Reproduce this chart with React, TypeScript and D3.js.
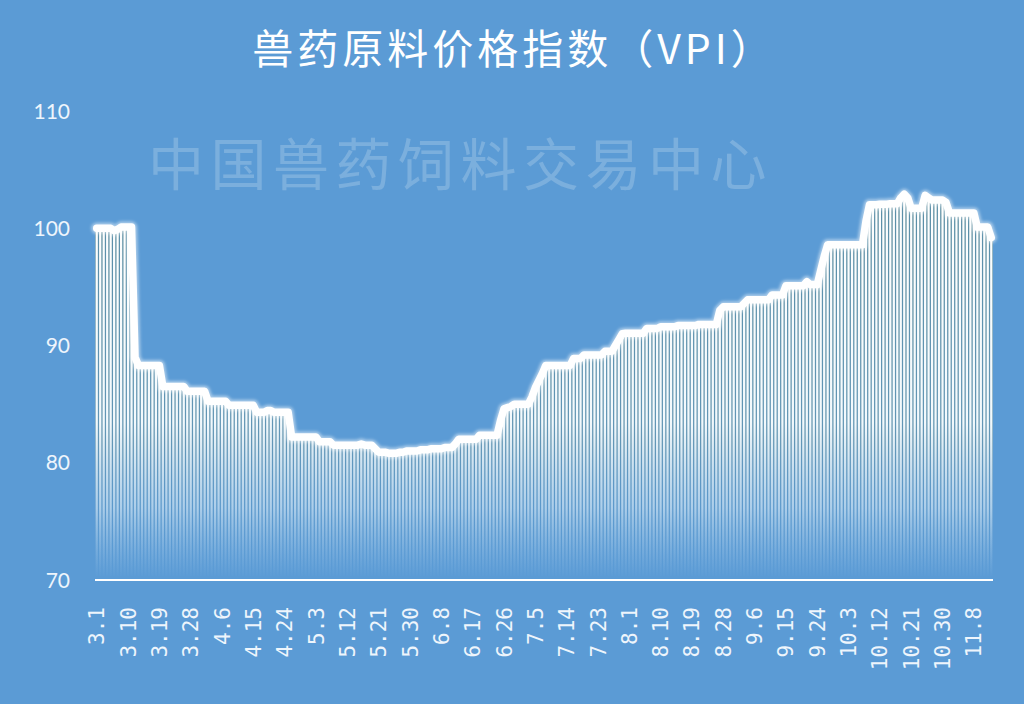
import React from 'react';
import * as d3 from 'd3';

const W = 1024;
const H = 704;

// Daily categories 3.1 .. 11.13
const dates = d3.timeDay.range(new Date(2017, 2, 1), new Date(2017, 10, 14));
const categories = dates.map((d) => `${d.getMonth() + 1}.${d.getDate()}`);

const vpiValues = [
  // 3.1 - 3.11
  100.0, 100.0, 100.0, 100.0, 100.0, 99.8, 99.9, 100.1, 100.1, 100.1, 100.1,
  // 3.12
  89.0,
  88.3, 88.3, 88.3, 88.3, 88.3, 88.3, 88.3,
  86.5, 86.5, 86.5, 86.5, 86.5, 86.5, 86.5,
  86.1, 86.1, 86.1, 86.1, 86.1, 86.1,
  85.25, 85.25, 85.25, 85.25, 85.25, 85.25,
  84.9, 84.9, 84.9, 84.9, 84.9, 84.9, 84.9, 84.9,
  84.3, 84.3, 84.3, 84.45, 84.45, 84.3, 84.3, 84.3, 84.3, 84.3,
  82.2, 82.2, 82.2, 82.2, 82.2, 82.2, 82.2, 82.2,
  81.8, 81.8, 81.8, 81.8,
  81.5, 81.5, 81.5, 81.5, 81.5, 81.5, 81.5, 81.5, 81.6, 81.5, 81.5, 81.5,
  81.2,
  80.9, 80.9, 80.9, 80.8, 80.8, 80.8, 80.9, 80.9,
  81.0, 81.0, 81.0, 81.0, 81.1, 81.1, 81.1, 81.2, 81.2, 81.2, 81.2, 81.3, 81.3, 81.3,
  81.6,
  82.0, 82.0, 82.0, 82.0, 82.0, 82.0,
  82.35, 82.35, 82.35, 82.35, 82.35, 82.35,
  83.6,
  84.6, 84.7, 84.8,
  85.0, 85.0, 85.0, 85.0, 85.0,
  85.6, 86.4, 87.0, 87.6,
  88.3, 88.3, 88.3, 88.3, 88.3, 88.3, 88.3, 88.3,
  88.9, 88.9, 88.9,
  89.2, 89.2, 89.2, 89.2, 89.2, 89.2,
  89.5, 89.5, 89.5,
  90.0, 90.5, 91.0,
  91.05, 91.05, 91.05, 91.05, 91.05, 91.05,
  91.45, 91.45, 91.45, 91.45,
  91.6, 91.6, 91.6, 91.6, 91.6, 91.7, 91.7, 91.7, 91.7, 91.7, 91.7,
  91.8, 91.8, 91.8, 91.8, 91.8, 91.8,
  93.0,
  93.3, 93.3, 93.3, 93.3, 93.3, 93.3,
  93.6,
  93.9, 93.9, 93.9, 93.9, 93.9, 93.9, 93.9,
  94.3, 94.3, 94.3, 94.3,
  95.1, 95.1, 95.1, 95.1, 95.1, 95.1,
  95.45,
  95.2, 95.2, 95.2,
  96.4, 97.6,
  98.6, 98.6, 98.6, 98.6, 98.6, 98.6, 98.6, 98.6, 98.6, 98.6, 98.6,
  100.6,
  102.0, 102.0, 102.0, 102.05, 102.05, 102.05, 102.1, 102.1, 102.1,
  102.6, 102.9, 102.6,
  101.7, 101.7, 101.7, 101.7,
  102.8, 102.6,
  102.4, 102.4, 102.4, 102.4,
  102.2,
  101.3, 101.3, 101.3, 101.3, 101.3, 101.3, 101.3, 101.3,
  100.1, 100.1, 100.1, 100.1,
  99.2,
];

const tickLabels = [
  '3.1', '3.10', '3.19', '3.28', '4.6', '4.15', '4.24', '5.3', '5.12', '5.21',
  '5.30', '6.8', '6.17', '6.26', '7.5', '7.14', '7.23', '8.1', '8.10', '8.19',
  '8.28', '9.6', '9.15', '9.24', '10.3', '10.12', '10.21', '10.30', '11.8',
];
const yTicks = [70, 80, 90, 100, 110];

const TITLE = '兽药原料价格指数（VPI）';
const WATERMARK = '中国兽药饲料交易中心';

const BG = '#5b9bd5';

export default function App() {
  const x = d3.scaleBand<string>().domain(categories).range([95, 993]).paddingInner(0.36).paddingOuter(0.18);
  const y = d3.scaleLinear().domain([70, 110]).range([580, 111]);
  const step = x.step();
  const bw = x.bandwidth();
  const cx = (c: string) => (x(c) as number) + bw / 2;

  const data = categories.map((c, i) => ({ c, v: vpiValues[i] })).filter((d) => d.v !== undefined);

  const line = d3
    .line<{ c: string; v: number }>()
    .x((d) => cx(d.c))
    .y((d) => y(d.v));
  const path = line(data) || '';

  return (
    <svg width={W} height={H} style={{ position: 'absolute', left: 0, top: 0, display: 'block' }}>
      <defs>
        <linearGradient id="barGrad" gradientUnits="userSpaceOnUse" x1="0" y1="190" x2="0" y2="578">
          <stop offset="0" stopColor="#ffffff" stopOpacity="1" />
          <stop offset="0.6" stopColor="#f6fcff" stopOpacity="0.97" />
          <stop offset="0.82" stopColor="#d6eafb" stopOpacity="0.65" />
          <stop offset="1" stopColor="#b9d9f5" stopOpacity="0" />
        </linearGradient>
        <linearGradient id="gapGrad" gradientUnits="userSpaceOnUse" x1="0" y1="190" x2="0" y2="578">
          <stop offset="0" stopColor="#5a8a98" stopOpacity="1" />
          <stop offset="0.65" stopColor="#6694a8" stopOpacity="0.85" />
          <stop offset="1" stopColor={BG} stopOpacity="0" />
        </linearGradient>
        <filter id="glow" x="-5%" y="-5%" width="110%" height="110%">
          <feGaussianBlur stdDeviation="1.5" />
        </filter>
      </defs>
      <rect x={0} y={0} width={W} height={H} fill={BG} />

      {/* Title */}
      <text
        x={514}
        y={64}
        textAnchor="middle"
        fill="#ffffff"
        fontFamily="'Noto Sans CJK SC', sans-serif"
        fontSize={41}
        fontWeight={400}
        letterSpacing={4}
      >
        {TITLE}
      </text>

      {/* Watermark */}
      <text
        x={148}
        y={185}
        fill="#ffffff"
        fillOpacity={0.2}
        fontFamily="'Noto Sans CJK SC', sans-serif"
        fontSize={56}
        letterSpacing={6.5}
      >
        {WATERMARK}
      </text>

      {/* Y tick labels */}
      {yTicks.map((t) => (
        <text
          key={t}
          x={70}
          y={y(t)}
          dy="0.36em"
          textAnchor="end"
          fill="#eef5fc"
          fontFamily="Lato, 'Open Sans', sans-serif"
          fontSize={21}
        >
          {t}
        </text>
      ))}

      {/* gaps shading */}
      {data.map((d) => (
        <rect
          key={'g' + d.c}
          x={(x(d.c) as number) - (step - bw) / 2}
          y={y(d.v)}
          width={step}
          height={574 - y(d.v)}
          fill="url(#gapGrad)"
        />
      ))}

      {/* bars */}
      {data.map((d) => (
        <rect
          key={'b' + d.c}
          x={x(d.c) as number}
          y={y(d.v)}
          width={bw}
          height={576 - y(d.v)}
          fill="url(#barGrad)"
        />
      ))}

      {/* line */}
      <path d={path} fill="none" stroke="#ffffff" strokeOpacity={0.5} strokeWidth={11} strokeLinejoin="round" strokeLinecap="round" filter="url(#glow)" />
      <path d={path} fill="none" stroke="#ffffff" strokeWidth={7.5} strokeLinejoin="round" strokeLinecap="round" />

      {/* x axis line */}
      <line x1={95} x2={993} y1={580} y2={580} stroke="#ffffff" strokeWidth={2} />

      {/* x tick labels */}
      {tickLabels.map((lab) => {
        const px = cx(lab);
        return (
          <text
            key={lab}
            transform={`translate(${px},607) rotate(-90)`}
            dy="0.36em"
            textAnchor="end"
            fill="#eef5fc"
            fontFamily="'DejaVu Sans Mono', monospace"
            fontSize={21}
          >
            {lab}
          </text>
        );
      })}
    </svg>
  );
}
